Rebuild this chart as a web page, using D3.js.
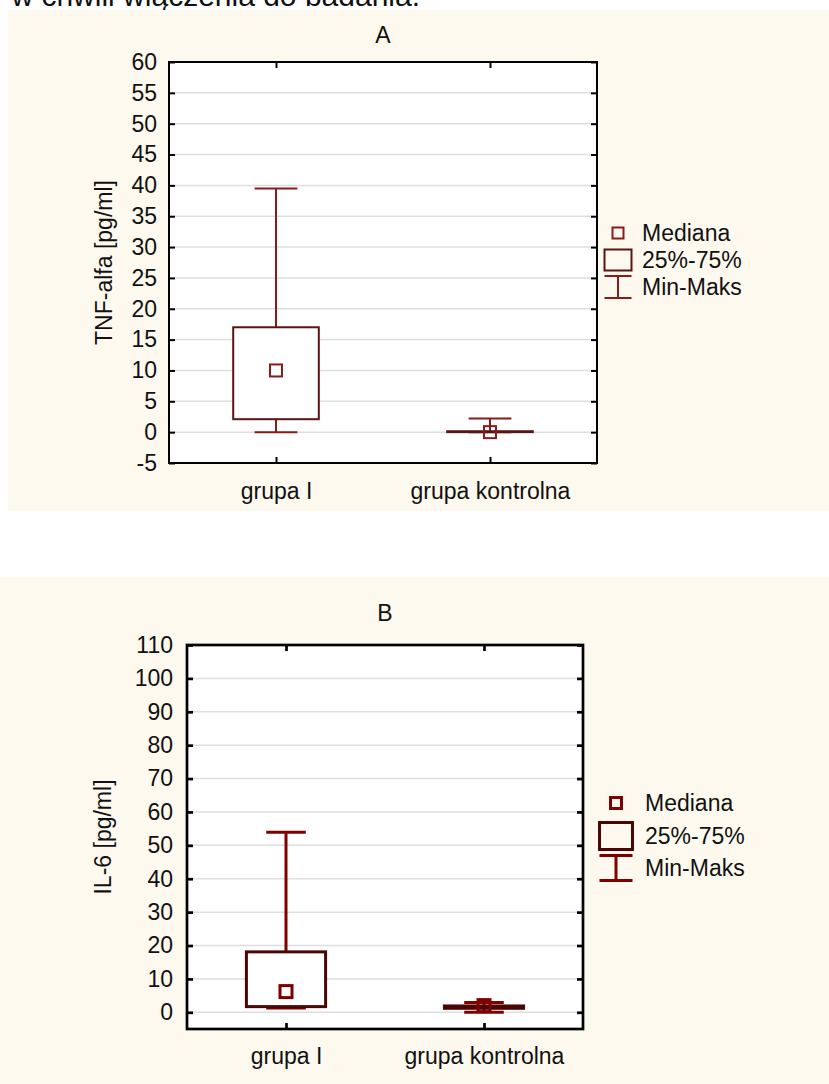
<!DOCTYPE html>
<html>
<head>
<meta charset="utf-8">
<script src="https://cdn.jsdelivr.net/npm/d3@7"></script>
<style>
  html, body { margin: 0; padding: 0; background: #ffffff; }
  svg { display: block; }
  text { font-family: "Liberation Sans", Arial, sans-serif; fill: #111; }
</style>
</head>
<body>
<svg id="chart" width="829" height="1084"></svg>
<script>
// Groups compared in both panels
const groups = ["grupa I", "grupa kontrolna"];

// Panel A: TNF-alfa [pg/ml] — min, quartiles, median, max per group
const tnfMin    = [0, 0];
const tnfQ1     = [2.1, 0];
const tnfMedian = [10, 0];
const tnfQ3     = [17, 0.15];
const tnfMax    = [39.5, 2.2];
const tnfTicks  = [-5, 0, 5, 10, 15, 20, 25, 30, 35, 40, 45, 50, 55, 60];

// Panel B: IL-6 [pg/ml]
const il6Min    = [1.3, 0];
const il6Q1     = [1.7, 1.2];
const il6Median = [6.2, 2.0];
const il6Q3     = [18.1, 1.9];
const il6Max    = [53.9, 2.9];
const il6Ticks  = [0, 10, 20, 30, 40, 50, 60, 70, 80, 90, 100, 110];

const legendLabels = ["Mediana", "25%-75%", "Min-Maks"];

const svg = d3.select("#chart");

// Caption line running above the figure
svg.append("text")
  .attr("x", 420).attr("y", 6)
  .attr("text-anchor", "end")
  .style("font-size", "30px")
  .text("w chwili włączenia do badania.");

// plain hyphen for negative tick values
const tickFmt = d => String(d);

function panel(opts) {
  const g = svg.append("g");
  // cream background
  g.append("rect")
    .attr("x", opts.bg[0]).attr("y", opts.bg[1])
    .attr("width", opts.bg[2]).attr("height", opts.bg[3])
    .attr("fill", "#fef9ee");

  const p = opts.plot; // left, top, right, bottom
  const x = d3.scalePoint().domain(groups).range([p.left, p.right]).padding(0.5);
  const y = d3.scaleLinear().domain(opts.domain).range([p.bottom, p.top]);
  const step = x.step();
  const boxW = step * 0.4;
  const capW = boxW / 2;

  g.append("rect")
    .attr("x", p.left).attr("y", p.top)
    .attr("width", p.right - p.left).attr("height", p.bottom - p.top)
    .attr("fill", "#ffffff");

  // horizontal gridlines
  g.append("g").selectAll("line").data(opts.ticks).join("line")
    .attr("x1", p.left).attr("x2", p.right)
    .attr("y1", d => y(d)).attr("y2", d => y(d))
    .attr("stroke", "#dedede").attr("stroke-width", 1.5);

  // axes with inward ticks on every side
  const tl = 6;
  const left = g.append("g").attr("transform", `translate(${p.left},0)`)
    .call(d3.axisLeft(y).tickValues(opts.ticks).tickFormat(tickFmt)
      .tickSize(-tl).tickPadding(tl + opts.labelGap));
  const right = g.append("g").attr("transform", `translate(${p.right},0)`)
    .call(d3.axisRight(y).tickValues(opts.ticks).tickSize(-tl).tickFormat(""));
  const top = g.append("g").attr("transform", `translate(0,${p.top})`)
    .call(d3.axisTop(x).tickSize(-tl).tickFormat(""));
  const bottom = g.append("g").attr("transform", `translate(0,${p.bottom})`)
    .call(d3.axisBottom(x).tickSize(-tl).tickPadding(tl + opts.xLabelGap));
  [left, right, top, bottom].forEach(a => {
    a.select(".domain").remove();
    a.selectAll(".tick line").attr("stroke", "#000").attr("stroke-width", opts.frameW);
    a.selectAll("text").style("font-size", "23px").attr("fill", "#111");
  });
  bottom.selectAll("text").attr("dy", "0.71em");

  // plot frame
  g.append("rect")
    .attr("x", p.left).attr("y", p.top)
    .attr("width", p.right - p.left).attr("height", p.bottom - p.top)
    .attr("fill", "none").attr("stroke", "#000").attr("stroke-width", opts.frameW);

  const idx = d3.range(groups.length);
  const whisker = opts.whiskerColor, boxC = opts.boxColor;
  const marks = g.append("g");
  // whiskers: stems and caps
  marks.selectAll(".stemUp").data(idx).join("line")
    .attr("x1", i => x(groups[i])).attr("x2", i => x(groups[i]))
    .attr("y1", i => y(opts.q3[i])).attr("y2", i => y(opts.max[i]))
    .attr("stroke", whisker).attr("stroke-width", opts.lineW);
  marks.selectAll(".stemDown").data(idx).join("line")
    .attr("x1", i => x(groups[i])).attr("x2", i => x(groups[i]))
    .attr("y1", i => y(opts.q1[i])).attr("y2", i => y(opts.min[i]))
    .attr("stroke", whisker).attr("stroke-width", opts.lineW);
  marks.selectAll(".capMax").data(idx).join("line")
    .attr("x1", i => x(groups[i]) - capW / 2).attr("x2", i => x(groups[i]) + capW / 2)
    .attr("y1", i => y(opts.max[i])).attr("y2", i => y(opts.max[i]))
    .attr("stroke", whisker).attr("stroke-width", opts.lineW);
  marks.selectAll(".capMin").data(idx).join("line")
    .attr("x1", i => x(groups[i]) - capW / 2).attr("x2", i => x(groups[i]) + capW / 2)
    .attr("y1", i => y(opts.min[i])).attr("y2", i => y(opts.min[i]))
    .attr("stroke", whisker).attr("stroke-width", opts.lineW);
  // interquartile boxes
  marks.selectAll(".box").data(idx).join("rect")
    .attr("x", i => x(groups[i]) - boxW / 2).attr("width", boxW)
    .attr("y", i => y(opts.q3[i]))
    .attr("height", i => Math.max(0, y(opts.q1[i]) - y(opts.q3[i])))
    .attr("fill", "#ffffff").attr("stroke", boxC).attr("stroke-width", opts.boxW);
  // medians
  const ms = 12;
  marks.selectAll(".median").data(idx).join("rect")
    .attr("x", i => x(groups[i]) - ms / 2).attr("y", i => y(opts.median[i]) - ms / 2)
    .attr("width", ms).attr("height", ms)
    .attr("fill", "none").attr("stroke", whisker).attr("stroke-width", opts.lineW);

  // title and y-axis label
  g.append("text")
    .attr("x", (p.left + p.right) / 2).attr("y", opts.titleY)
    .attr("text-anchor", "middle").style("font-size", "23px").text(opts.title);
  g.append("text")
    .attr("transform", `translate(${opts.yLabelX},${(p.top + p.bottom) / 2}) rotate(-90)`)
    .attr("text-anchor", "middle").style("font-size", "23px").text(opts.yLabel);

  // legend
  const L = opts.legend;
  const lg = g.append("g");
  lg.append("rect")
    .attr("x", L.cx - 5.5).attr("y", L.y0 - 5.5).attr("width", 11).attr("height", 11)
    .attr("fill", "none").attr("stroke", whisker).attr("stroke-width", opts.lineW);
  lg.append("rect")
    .attr("x", L.cx - L.bw / 2).attr("y", L.y1 - L.bh / 2).attr("width", L.bw).attr("height", L.bh)
    .attr("fill", "none").attr("stroke", boxC).attr("stroke-width", opts.boxW);
  const wy = [L.y2 - L.wh / 2, L.y2 + L.wh / 2];
  wy.forEach(v => lg.append("line")
    .attr("x1", L.cx - L.bw / 2).attr("x2", L.cx + L.bw / 2).attr("y1", v).attr("y2", v)
    .attr("stroke", whisker).attr("stroke-width", opts.lineW));
  lg.append("line")
    .attr("x1", L.cx).attr("x2", L.cx).attr("y1", wy[0]).attr("y2", wy[1])
    .attr("stroke", whisker).attr("stroke-width", opts.lineW);
  lg.selectAll(".lt").data(legendLabels).join("text")
    .attr("x", L.tx).attr("y", (d, i) => [L.y0, L.y1, L.y2][i])
    .attr("dy", "0.36em").style("font-size", "23px").text(d => d);
}

panel({
  bg: [8, 10, 821, 501],
  plot: { left: 169, top: 62, right: 597, bottom: 463 },
  domain: [-5, 60], ticks: tnfTicks,
  min: tnfMin, q1: tnfQ1, median: tnfMedian, q3: tnfQ3, max: tnfMax,
  whiskerColor: "#8b1a1a", boxColor: "#5a1414",
  lineW: 2, boxW: 2, frameW: 2,
  labelGap: 6, xLabelGap: 14,
  title: "A", titleY: 43,
  yLabel: "TNF-alfa [pg/ml]", yLabelX: 112,
  legend: { cx: 618, y0: 233, y1: 260, y2: 287, bw: 27, bh: 21, wh: 22, tx: 642 }
});

panel({
  bg: [0, 577, 829, 507],
  plot: { left: 187, top: 645, right: 583, bottom: 1029 },
  domain: [-5, 110], ticks: il6Ticks,
  min: il6Min, q1: il6Q1, median: il6Median, q3: il6Q3, max: il6Max,
  whiskerColor: "#800000", boxColor: "#4a0505",
  lineW: 3, boxW: 3, frameW: 2.7,
  labelGap: 8, xLabelGap: 13,
  title: "B", titleY: 621,
  yLabel: "IL-6 [pg/ml]", yLabelX: 111,
  legend: { cx: 616, y0: 803, y1: 836, y2: 868, bw: 33, bh: 27, wh: 25, tx: 645 }
});
</script>
</body>
</html>
